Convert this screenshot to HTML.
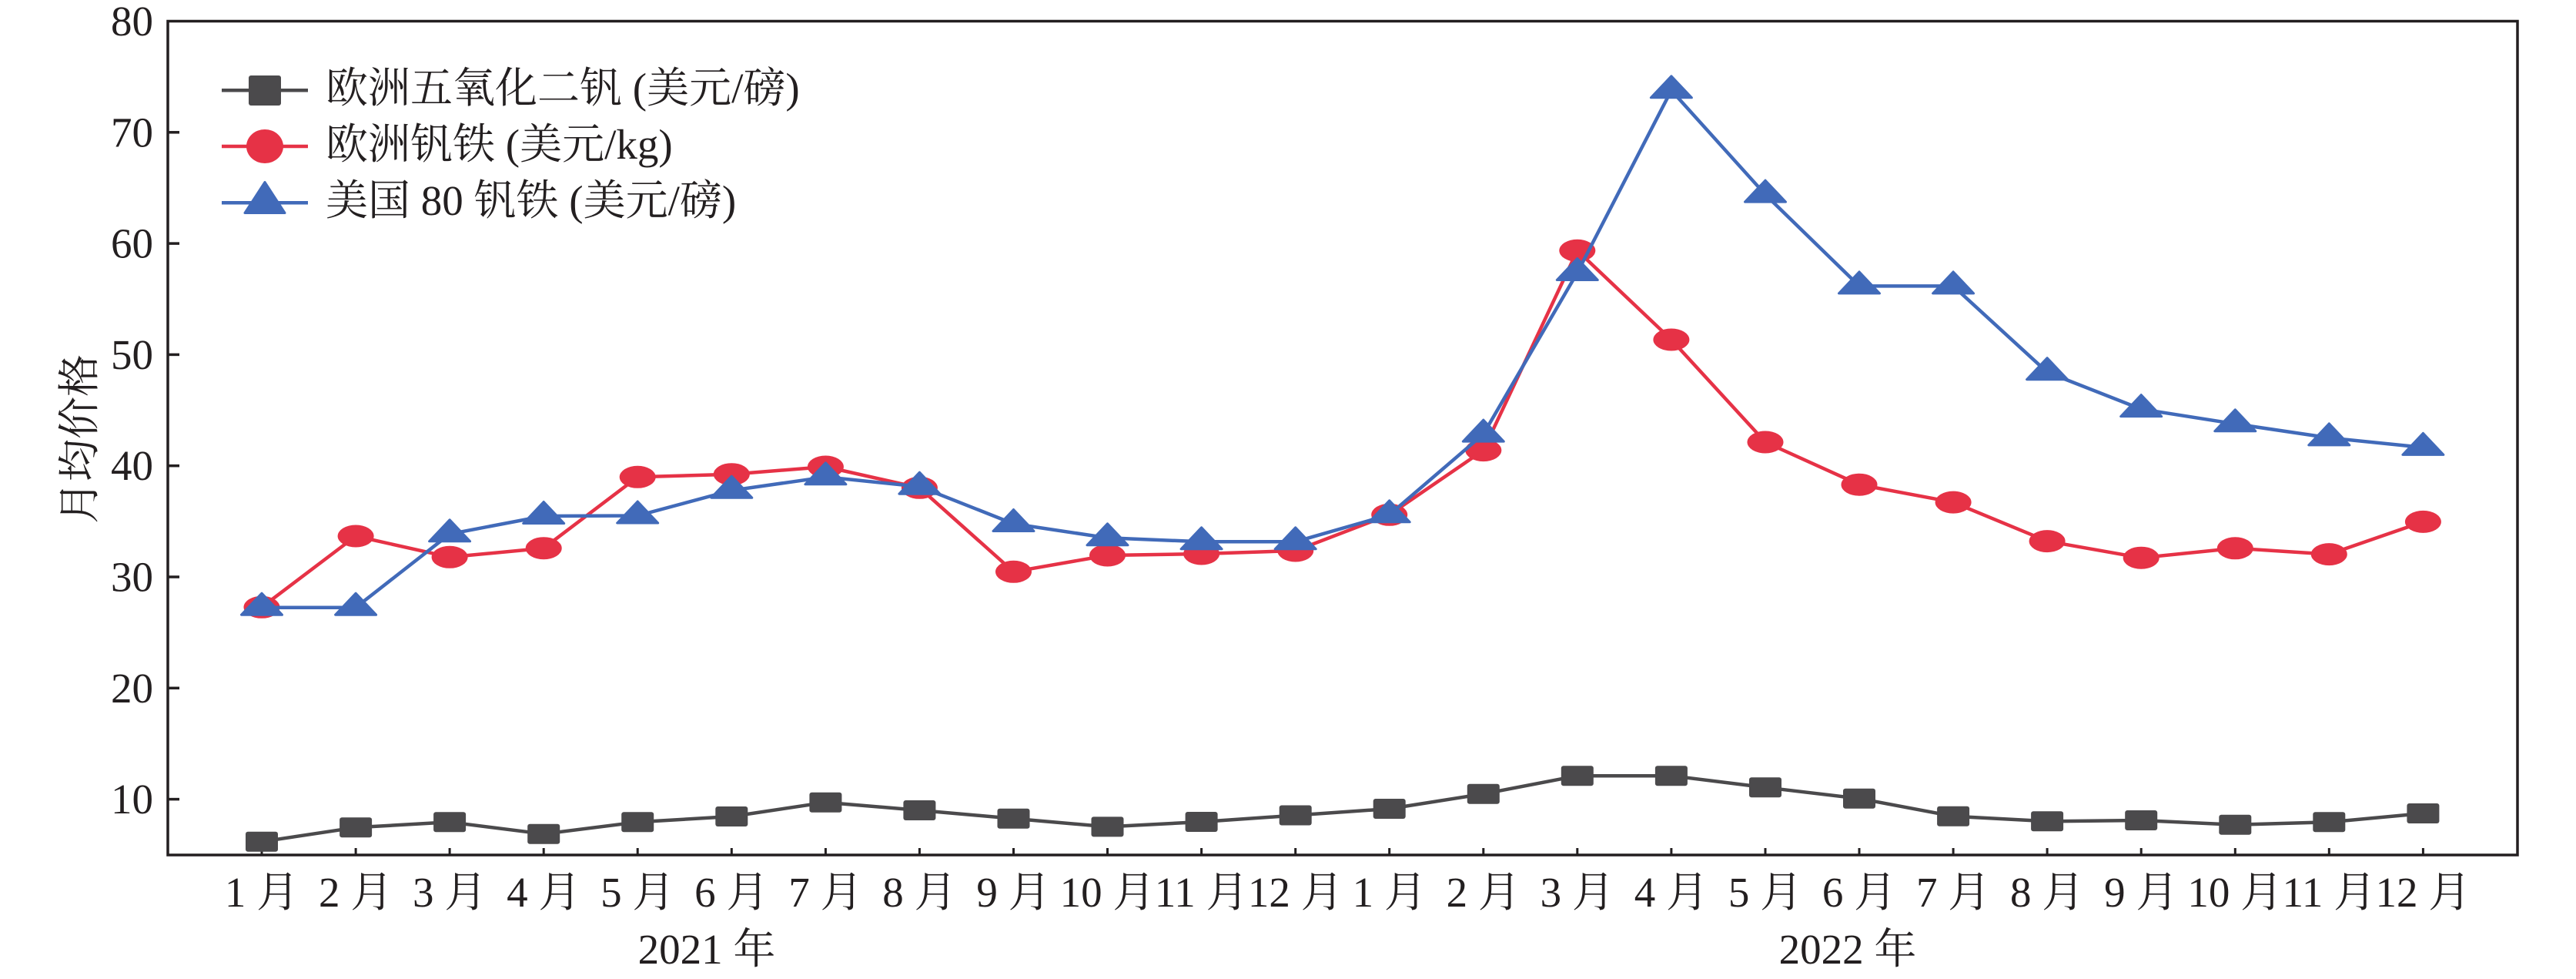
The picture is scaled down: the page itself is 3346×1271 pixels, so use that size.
<!DOCTYPE html>
<html><head><meta charset="utf-8"><style>
html,body{margin:0;padding:0;background:#fff;}
svg{display:block;}
text{font-family:"Liberation Serif","Noto Serif CJK SC",serif;fill:#231f20;}
</style></head><body>
<svg width="3346" height="1271" viewBox="0 0 3346 1271" xmlns="http://www.w3.org/2000/svg">
<rect x="0" y="0" width="3346" height="1271" fill="#fff"/>
<!-- frame -->
<rect x="218" y="27.5" width="3052" height="1082.5" fill="none" stroke="#231f20" stroke-width="3.5"/>
<!-- y ticks -->
<g stroke="#231f20" stroke-width="3.5">
<line x1="218" y1="171.8" x2="233" y2="171.8"/>
<line x1="218" y1="316.1" x2="233" y2="316.1"/>
<line x1="218" y1="460.4" x2="233" y2="460.4"/>
<line x1="218" y1="604.7" x2="233" y2="604.7"/>
<line x1="218" y1="749" x2="233" y2="749"/>
<line x1="218" y1="893.3" x2="233" y2="893.3"/>
<line x1="218" y1="1037.6" x2="233" y2="1037.6"/>
</g>
<!-- x ticks -->
<g stroke="#231f20" stroke-width="3">
<line x1="340" y1="1110" x2="340" y2="1101"/>
<line x1="462.1" y1="1110" x2="462.1" y2="1101"/>
<line x1="584.1" y1="1110" x2="584.1" y2="1101"/>
<line x1="706.2" y1="1110" x2="706.2" y2="1101"/>
<line x1="828.2" y1="1110" x2="828.2" y2="1101"/>
<line x1="950.3" y1="1110" x2="950.3" y2="1101"/>
<line x1="1072.4" y1="1110" x2="1072.4" y2="1101"/>
<line x1="1194.4" y1="1110" x2="1194.4" y2="1101"/>
<line x1="1316.5" y1="1110" x2="1316.5" y2="1101"/>
<line x1="1438.5" y1="1110" x2="1438.5" y2="1101"/>
<line x1="1560.6" y1="1110" x2="1560.6" y2="1101"/>
<line x1="1682.7" y1="1110" x2="1682.7" y2="1101"/>
<line x1="1804.7" y1="1110" x2="1804.7" y2="1101"/>
<line x1="1926.8" y1="1110" x2="1926.8" y2="1101"/>
<line x1="2048.8" y1="1110" x2="2048.8" y2="1101"/>
<line x1="2170.9" y1="1110" x2="2170.9" y2="1101"/>
<line x1="2293" y1="1110" x2="2293" y2="1101"/>
<line x1="2415" y1="1110" x2="2415" y2="1101"/>
<line x1="2537.1" y1="1110" x2="2537.1" y2="1101"/>
<line x1="2659.1" y1="1110" x2="2659.1" y2="1101"/>
<line x1="2781.2" y1="1110" x2="2781.2" y2="1101"/>
<line x1="2903.3" y1="1110" x2="2903.3" y2="1101"/>
<line x1="3025.3" y1="1110" x2="3025.3" y2="1101"/>
<line x1="3147.4" y1="1110" x2="3147.4" y2="1101"/>
</g>
<!-- y tick labels -->
<g font-size="55" text-anchor="end">
<text x="199" y="46">80</text>
<text x="199" y="190.3">70</text>
<text x="199" y="334.6">60</text>
<text x="199" y="478.9">50</text>
<text x="199" y="623.2">40</text>
<text x="199" y="767.5">30</text>
<text x="199" y="911.8">20</text>
<text x="199" y="1056.1">10</text>
</g>
<!-- y axis label -->
<text font-size="55" text-anchor="middle" transform="translate(122,570) rotate(-90)">月均价格</text>
<!-- x tick labels -->
<g font-size="55" text-anchor="middle">
<text x="340" y="1177">1 月</text>
<text x="462.1" y="1177">2 月</text>
<text x="584.1" y="1177">3 月</text>
<text x="706.2" y="1177">4 月</text>
<text x="828.2" y="1177">5 月</text>
<text x="950.3" y="1177">6 月</text>
<text x="1072.4" y="1177">7 月</text>
<text x="1194.4" y="1177">8 月</text>
<text x="1316.5" y="1177">9 月</text>
<text x="1438.5" y="1177">10 月</text>
<text x="1560.6" y="1177">11 月</text>
<text x="1682.7" y="1177">12 月</text>
<text x="1804.7" y="1177">1 月</text>
<text x="1926.8" y="1177">2 月</text>
<text x="2048.8" y="1177">3 月</text>
<text x="2170.9" y="1177">4 月</text>
<text x="2293" y="1177">5 月</text>
<text x="2415" y="1177">6 月</text>
<text x="2537.1" y="1177">7 月</text>
<text x="2659.1" y="1177">8 月</text>
<text x="2781.2" y="1177">9 月</text>
<text x="2903.3" y="1177">10 月</text>
<text x="3025.3" y="1177">11 月</text>
<text x="3147.4" y="1177">12 月</text>
<text x="918" y="1251">2021 年</text>
<text x="2400" y="1251">2022 年</text>
</g>

<!-- gray series -->
<polyline fill="none" stroke="#4b4a4c" stroke-width="4.5" stroke-linejoin="round" points="340,1092.7 462.1,1074.3 584.1,1067.3 706.2,1082.7 828.2,1067.3 950.3,1060 1072.4,1041.7 1194.4,1052 1316.5,1062.7 1438.5,1073.4 1560.6,1067 1682.7,1058.5 1804.7,1050 1926.8,1030.7 2048.8,1007.2 2170.9,1007.2 2293,1022.3 2415,1036.7 2537.1,1059.7 2659.1,1066.3 2781.2,1065 2903.3,1070.7 3025.3,1067.3 3147.4,1056"/>
<g fill="#4b4a4c">
<rect x="319" y="1079.7" width="42" height="26" rx="3"/>
<rect x="441.1" y="1061.3" width="42" height="26" rx="3"/>
<rect x="563.1" y="1054.3" width="42" height="26" rx="3"/>
<rect x="685.2" y="1069.7" width="42" height="26" rx="3"/>
<rect x="807.2" y="1054.3" width="42" height="26" rx="3"/>
<rect x="929.3" y="1047" width="42" height="26" rx="3"/>
<rect x="1051.4" y="1028.7" width="42" height="26" rx="3"/>
<rect x="1173.4" y="1039" width="42" height="26" rx="3"/>
<rect x="1295.5" y="1049.7" width="42" height="26" rx="3"/>
<rect x="1417.5" y="1060.4" width="42" height="26" rx="3"/>
<rect x="1539.6" y="1054" width="42" height="26" rx="3"/>
<rect x="1661.7" y="1045.5" width="42" height="26" rx="3"/>
<rect x="1783.7" y="1037" width="42" height="26" rx="3"/>
<rect x="1905.8" y="1017.7" width="42" height="26" rx="3"/>
<rect x="2027.8" y="994.2" width="42" height="26" rx="3"/>
<rect x="2149.9" y="994.2" width="42" height="26" rx="3"/>
<rect x="2272" y="1009.3" width="42" height="26" rx="3"/>
<rect x="2394" y="1023.7" width="42" height="26" rx="3"/>
<rect x="2516.1" y="1046.7" width="42" height="26" rx="3"/>
<rect x="2638.1" y="1053.3" width="42" height="26" rx="3"/>
<rect x="2760.2" y="1052" width="42" height="26" rx="3"/>
<rect x="2882.3" y="1057.7" width="42" height="26" rx="3"/>
<rect x="3004.3" y="1054.3" width="42" height="26" rx="3"/>
<rect x="3126.4" y="1043" width="42" height="26" rx="3"/>
</g>

<!-- red series -->
<polyline fill="none" stroke="#e63246" stroke-width="4.5" stroke-linejoin="round" points="340,788.3 462.1,696 584.1,723.3 706.2,711.7 828.2,619.3 950.3,615.7 1072.4,606 1194.4,633.3 1316.5,742.3 1438.5,721 1560.6,719 1682.7,715 1804.7,668.3 1926.8,584.6 2048.8,325.3 2170.9,441 2293,574 2415,629.2 2537.1,652.1 2659.1,702.6 2781.2,724.2 2903.3,711.8 3025.3,719.6 3147.4,677.4"/>
<g fill="#e63246">
<ellipse cx="340" cy="788.3" rx="23.5" ry="14.5"/>
<ellipse cx="462.1" cy="696" rx="23.5" ry="14.5"/>
<ellipse cx="584.1" cy="723.3" rx="23.5" ry="14.5"/>
<ellipse cx="706.2" cy="711.7" rx="23.5" ry="14.5"/>
<ellipse cx="828.2" cy="619.3" rx="23.5" ry="14.5"/>
<ellipse cx="950.3" cy="615.7" rx="23.5" ry="14.5"/>
<ellipse cx="1072.4" cy="606" rx="23.5" ry="14.5"/>
<ellipse cx="1194.4" cy="633.3" rx="23.5" ry="14.5"/>
<ellipse cx="1316.5" cy="742.3" rx="23.5" ry="14.5"/>
<ellipse cx="1438.5" cy="721" rx="23.5" ry="14.5"/>
<ellipse cx="1560.6" cy="719" rx="23.5" ry="14.5"/>
<ellipse cx="1682.7" cy="715" rx="23.5" ry="14.5"/>
<ellipse cx="1804.7" cy="668.3" rx="23.5" ry="14.5"/>
<ellipse cx="1926.8" cy="584.6" rx="23.5" ry="14.5"/>
<ellipse cx="2048.8" cy="325.3" rx="23.5" ry="14.5"/>
<ellipse cx="2170.9" cy="441" rx="23.5" ry="14.5"/>
<ellipse cx="2293" cy="574" rx="23.5" ry="14.5"/>
<ellipse cx="2415" cy="629.2" rx="23.5" ry="14.5"/>
<ellipse cx="2537.1" cy="652.1" rx="23.5" ry="14.5"/>
<ellipse cx="2659.1" cy="702.6" rx="23.5" ry="14.5"/>
<ellipse cx="2781.2" cy="724.2" rx="23.5" ry="14.5"/>
<ellipse cx="2903.3" cy="711.8" rx="23.5" ry="14.5"/>
<ellipse cx="3025.3" cy="719.6" rx="23.5" ry="14.5"/>
<ellipse cx="3147.4" cy="677.4" rx="23.5" ry="14.5"/>
</g>

<!-- blue series -->
<polyline fill="none" stroke="#416ab9" stroke-width="4.5" stroke-linejoin="round" points="340,788.7 462.1,788.7 584.1,693.3 706.2,670 828.2,669.5 950.3,636.7 1072.4,619.3 1194.4,631.7 1316.5,680 1438.5,698.3 1560.6,703.3 1682.7,703.3 1804.7,668.3 1926.8,563.6 2048.8,354 2170.9,117.3 2293,252.6 2415,371.4 2537.1,371.4 2659.1,483.2 2781.2,531.1 2903.3,550.3 3025.3,568.4 3147.4,580.9"/>
<defs>
<polygon id="tri" points="0,-18.5 -26.5,9.5 26.5,9.5" fill="#416ab9" stroke="#416ab9" stroke-width="3" stroke-linejoin="round"/>
</defs>
<use href="#tri" x="340" y="788.7"/>
<use href="#tri" x="462.1" y="788.7"/>
<use href="#tri" x="584.1" y="693.3"/>
<use href="#tri" x="706.2" y="670"/>
<use href="#tri" x="828.2" y="669.5"/>
<use href="#tri" x="950.3" y="636.7"/>
<use href="#tri" x="1072.4" y="619.3"/>
<use href="#tri" x="1194.4" y="631.7"/>
<use href="#tri" x="1316.5" y="680"/>
<use href="#tri" x="1438.5" y="698.3"/>
<use href="#tri" x="1560.6" y="703.3"/>
<use href="#tri" x="1682.7" y="703.3"/>
<use href="#tri" x="1804.7" y="668.3"/>
<use href="#tri" x="1926.8" y="563.6"/>
<use href="#tri" x="2048.8" y="354"/>
<use href="#tri" x="2170.9" y="117.3"/>
<use href="#tri" x="2293" y="252.6"/>
<use href="#tri" x="2415" y="371.4"/>
<use href="#tri" x="2537.1" y="371.4"/>
<use href="#tri" x="2659.1" y="483.2"/>
<use href="#tri" x="2781.2" y="531.1"/>
<use href="#tri" x="2903.3" y="550.3"/>
<use href="#tri" x="3025.3" y="568.4"/>
<use href="#tri" x="3147.4" y="580.9"/>

<!-- legend -->
<line x1="288" y1="117.3" x2="400" y2="117.3" stroke="#4b4a4c" stroke-width="4.5"/>
<rect x="323" y="98" width="42" height="39" rx="3" fill="#4b4a4c"/>
<line x1="288" y1="190" x2="400" y2="190" stroke="#e63246" stroke-width="4.5"/>
<ellipse cx="344" cy="190" rx="24" ry="22" fill="#e63246"/>
<line x1="288" y1="263.3" x2="400" y2="263.3" stroke="#416ab9" stroke-width="4.5"/>
<polygon points="344,236.5 318,276.5 370,276.5" fill="#416ab9" stroke="#416ab9" stroke-width="3" stroke-linejoin="round"/>
<g font-size="55">
<text x="423" y="133">欧洲五氧化二钒 (美元/磅)</text>
<text x="423" y="206">欧洲钒铁 (美元/kg)</text>
<text x="423" y="279">美国 80 钒铁 (美元/磅)</text>
</g>
</svg>
</body></html>
